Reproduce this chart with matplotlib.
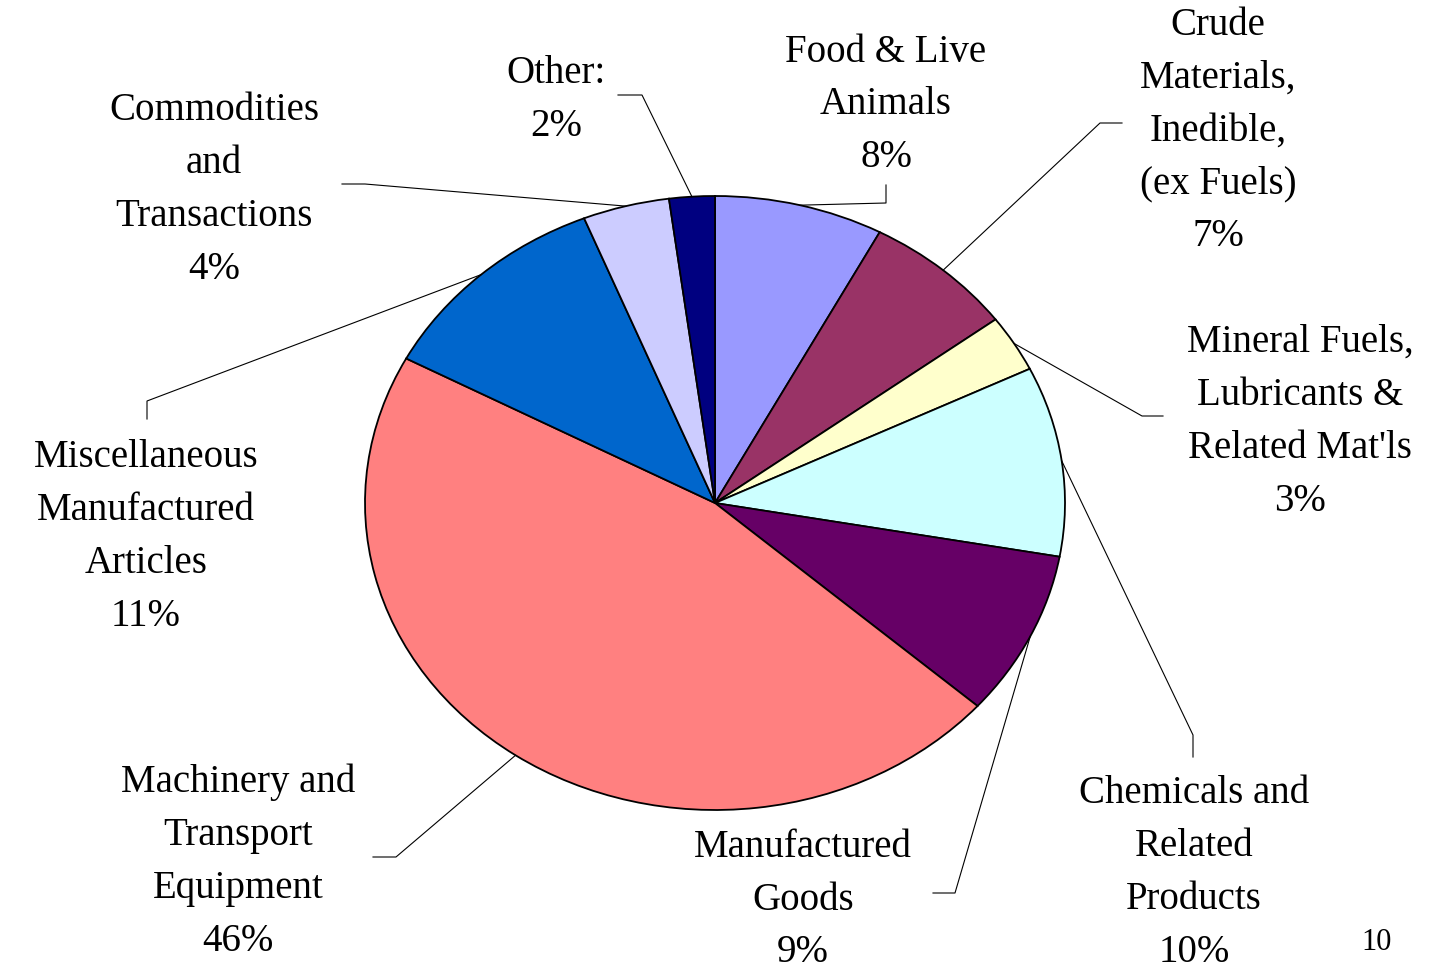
import matplotlib
matplotlib.use("Agg")
import matplotlib.pyplot as plt
import numpy as np

# ── data ────────────────────────────────────────────────────────────────────
labels = [
    "Food & Live\nAnimals",
    "Crude\nMaterials,\nInedible,\n(ex Fuels)",
    "Mineral Fuels,\nLubricants &\nRelated Mat'ls",
    "Chemicals and\nRelated\nProducts",
    "Manufactured\nGoods",
    "Machinery and\nTransport\nEquipment",
    "Miscellaneous\nManufactured\nArticles",
    "Commodities\nand\nTransactions",
    "Other:",
]
shares = [7.8, 7.0, 3.0, 10.0, 8.7, 46.3, 11.1, 4.0, 2.1]
colors = ["#9999FF", "#993366", "#FFFFCC", "#CCFFFF", "#660066",
          "#FF8080", "#0066CC", "#CCCCFF", "#000080"]

# ── layout (pixel coords of the reference picture) ──────────────────────────
W, H = 1447, 969
CX, CY = 715, 503      # pie centre
RX, RY = 350, 307      # pie is drawn a bit squashed

label_pos = [(886, 105), (1218, 131), (1300, 422), (1194, 873), (803, 900),
             (238, 862), (146, 537), (214, 190), (556, 100)]
# elbow and end of each leader line
leaders = [
    ((886, 203), (886, 185)),
    ((1100, 123), (1122, 123)),
    ((1142, 416), (1163, 416)),
    ((1193, 735), (1193, 757)),
    ((955, 893), (933, 893)),
    ((396, 857), (373, 857)),
    ((147, 401), (147, 419)),
    ((365, 184), (342, 184)),
    ((642, 95), (618, 95)),
]


def to_data(px, py):
    return (px - CX) / RX, (CY - py) / RY


plt.rcParams["font.family"] = ["Liberation Serif", "DejaVu Serif"]

fig = plt.figure(figsize=(W / 100, H / 100), dpi=100)
ax = fig.add_axes([0, 0, 1, 1])

wedges, _ = ax.pie(shares, colors=colors, startangle=90, counterclock=False,
                   wedgeprops=dict(edgecolor="black", linewidth=1.3))
ax.set_aspect("auto")
x0, y1 = to_data(0, 0)
x1, y0 = to_data(W, H)
ax.set_xlim(x0, x1)
ax.set_ylim(y0, y1)
ax.axis("off")

for w, lab, share, pos, (elbow, end) in zip(wedges, labels, shares, label_pos, leaders):
    mid = np.deg2rad((w.theta1 + w.theta2) / 2)
    sx, sy = np.cos(mid), np.sin(mid)
    ex, ey = to_data(*elbow)
    nx, ny = to_data(*end)
    ax.plot([sx, ex, nx], [sy, ey, ny], color="black", lw=0.8)

    tx, ty = to_data(*pos)
    ax.text(tx, ty, f"{lab}\n{round(share):d}%", ha="center", va="center",
            fontsize=28, linespacing=1.57)

px, py = to_data(1377, 942)
ax.text(px, py, "10", ha="center", va="center", fontsize=22)

fig.savefig("out.png", dpi=100)
